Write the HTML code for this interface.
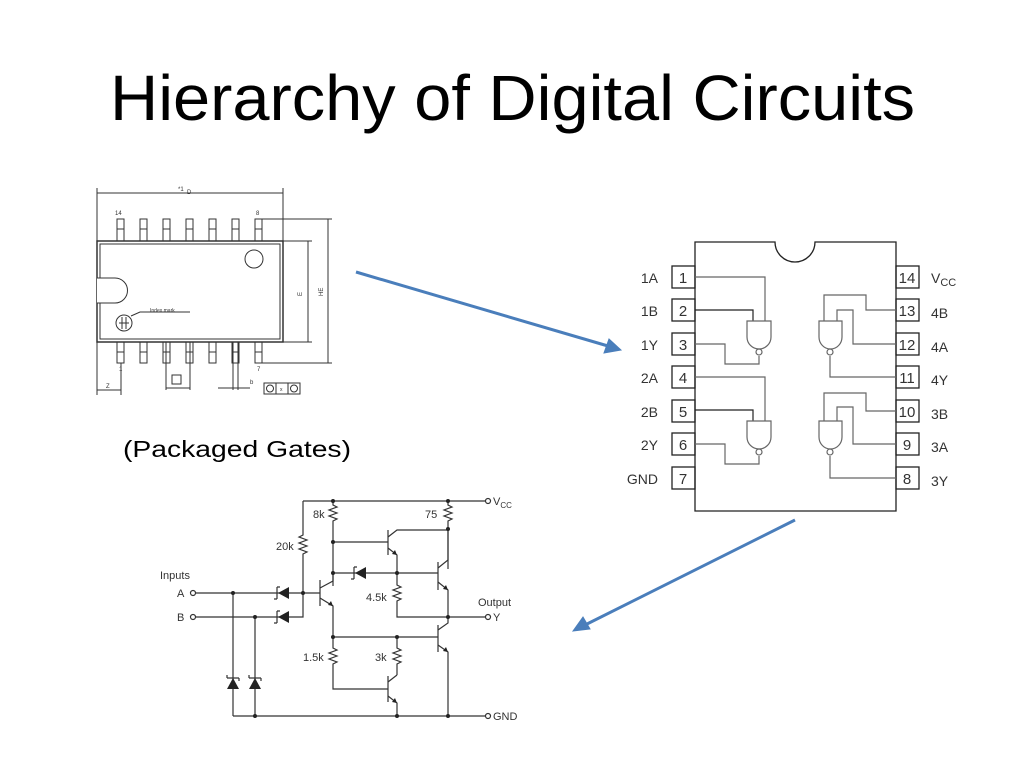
<!DOCTYPE html>
<html><head><meta charset="utf-8"><style>
html,body{margin:0;padding:0;background:#fff;}
svg{display:block;}
text{font-family:"Liberation Sans",sans-serif;}
</style></head><body>
<svg width="1024" height="768" viewBox="0 0 1024 768" xmlns="http://www.w3.org/2000/svg">
<rect width="1024" height="768" fill="#fff"/>
<text x="110" y="120" font-size="64" textLength="805" lengthAdjust="spacingAndGlyphs" fill="#000">Hierarchy of Digital Circuits</text>
<text x="123" y="457" font-size="23" textLength="228" lengthAdjust="spacingAndGlyphs" fill="#000">(Packaged Gates)</text>

<!-- Package drawing -->
<g stroke="#333" stroke-width="1" fill="none">
<line x1="97" y1="193" x2="283" y2="193"/>
<line x1="97" y1="188" x2="97" y2="395"/>
<line x1="283" y1="188" x2="283" y2="241"/>
<rect x="97" y="241" width="186" height="101" stroke-width="1.5"/>
<rect x="100" y="244" width="180" height="95"/>
<path d="M97 278 H115 A12.5 12.5 0 0 1 115 303 H97" fill="#fff"/>
<circle cx="254" cy="259" r="9"/>
<circle cx="124" cy="323" r="8"/>
<line x1="119" y1="323" x2="129" y2="323"/><line x1="122" y1="317" x2="122" y2="329"/><line x1="126" y1="317" x2="126" y2="329"/>
<path d="M131 316 L140 312 H190"/>
<g>
<rect x="117" y="219" width="7" height="22"/><rect x="140" y="219" width="7" height="22"/><rect x="163" y="219" width="7" height="22"/><rect x="186" y="219" width="7" height="22"/><rect x="209" y="219" width="7" height="22"/><rect x="232" y="219" width="7" height="22"/><rect x="255" y="219" width="7" height="22"/>
<rect x="117" y="342" width="7" height="21"/><rect x="140" y="342" width="7" height="21"/><rect x="163" y="342" width="7" height="21"/><rect x="186" y="342" width="7" height="21"/><rect x="209" y="342" width="7" height="21"/><rect x="232" y="342" width="7" height="21"/><rect x="255" y="342" width="7" height="21"/>
<line x1="117" y1="229" x2="262" y2="229" stroke-dasharray="7 16"/>
<line x1="117" y1="352" x2="262" y2="352" stroke-dasharray="7 16"/>
</g>
<line x1="262" y1="219" x2="332" y2="219"/><line x1="262" y1="363" x2="332" y2="363"/>
<line x1="328" y1="219" x2="328" y2="363"/>
<line x1="283" y1="241" x2="312" y2="241"/><line x1="283" y1="342" x2="312" y2="342"/>
<line x1="308" y1="241" x2="308" y2="342"/>
<line x1="121" y1="363" x2="121" y2="395"/>
<line x1="97" y1="390" x2="121" y2="390"/>
<line x1="166" y1="342" x2="166" y2="390"/><line x1="190" y1="342" x2="190" y2="390"/>
<line x1="166" y1="388" x2="190" y2="388"/>
<rect x="172" y="375" width="9" height="9"/>
<line x1="233" y1="342" x2="233" y2="390"/><line x1="238" y1="342" x2="238" y2="390"/>
<line x1="218" y1="388" x2="250" y2="388"/>
<rect x="264" y="383" width="36" height="11"/>
<line x1="276" y1="383" x2="276" y2="394"/><line x1="288" y1="383" x2="288" y2="394"/>
<circle cx="270" cy="388.5" r="3.5"/><circle cx="294" cy="388.5" r="3.5"/>
</g>
<g font-size="6" fill="#333">
<text x="115" y="215">14</text><text x="256" y="215">8</text>
<text x="119" y="371">1</text><text x="257" y="371">7</text>
<text x="187" y="194">D</text><text x="178" y="191">*1</text>
<text x="106" y="388">Z</text><text x="150" y="312" font-size="5">Index mark</text>
<text x="302" y="296" transform="rotate(-90 302 296)">E</text>
<text x="323" y="296" transform="rotate(-90 323 296)">HE</text>
<text x="250" y="384">b</text><text x="280" y="391" font-size="5">x</text>
</g>

<!-- DIP -->
<g stroke="#222" stroke-width="1.3" fill="none">
<path d="M695 242 H775 A20 20 0 0 0 815 242 H896 V511 H695 Z"/>
<rect x="672" y="266" width="23" height="22"/><rect x="672" y="299" width="23" height="22"/><rect x="672" y="333" width="23" height="22"/><rect x="672" y="366" width="23" height="22"/><rect x="672" y="400" width="23" height="22"/><rect x="672" y="433" width="23" height="22"/><rect x="672" y="467" width="23" height="22"/>
<rect x="896" y="266" width="23" height="22"/><rect x="896" y="299" width="23" height="22"/><rect x="896" y="333" width="23" height="22"/><rect x="896" y="366" width="23" height="22"/><rect x="896" y="400" width="23" height="22"/><rect x="896" y="433" width="23" height="22"/><rect x="896" y="467" width="23" height="22"/>
</g>
<g stroke="#666" stroke-width="1.2" fill="none">
<path d="M695 277 H765 V321"/><path d="M695 310 H753 V321" stroke="#222"/><path d="M695 344 H725 V364 H759 V356"/>
<path d="M747 321 H771 V337 A12 12 0 0 1 747 337 Z"/><circle cx="759" cy="352" r="3"/>
<path d="M695 377 H765 V421"/><path d="M695 410 H753 V421" stroke="#222"/><path d="M695 444 H725 V464 H759 V456"/>
<path d="M747 421 H771 V437 A12 12 0 0 1 747 437 Z"/><circle cx="759" cy="452" r="3"/>
<path d="M896 310 H866 V295 H824 V321"/><path d="M896 344 H853 V310 H837 V321"/><path d="M896 377 H830 V356"/>
<path d="M819 321 H842 V337 A11.5 12 0 0 1 819 337 Z"/><circle cx="830" cy="352" r="3"/>
<path d="M896 411 H866 V393 H824 V421"/><path d="M896 444 H853 V407 H837 V421"/><path d="M896 478 H830 V456"/>
<path d="M819 421 H842 V437 A11.5 12 0 0 1 819 437 Z"/><circle cx="830" cy="452" r="3"/>
</g>
<g font-size="15" fill="#333" text-anchor="middle">
<text x="683" y="283">1</text><text x="683" y="316">2</text><text x="683" y="350">3</text><text x="683" y="383">4</text><text x="683" y="417">5</text><text x="683" y="450">6</text><text x="683" y="484">7</text>
<text x="907" y="283">14</text><text x="907" y="316">13</text><text x="907" y="350">12</text><text x="907" y="383">11</text><text x="907" y="417">10</text><text x="907" y="450">9</text><text x="907" y="484">8</text>
</g>
<g font-size="14" fill="#333" text-anchor="end">
<text x="658" y="283">1A</text><text x="658" y="316">1B</text><text x="658" y="350">1Y</text><text x="658" y="383">2A</text><text x="658" y="417">2B</text><text x="658" y="450">2Y</text><text x="658" y="484">GND</text>
</g>
<g font-size="14" fill="#333">
<text x="931" y="283">V<tspan font-size="11" dy="3">CC</tspan></text><text x="931" y="318">4B</text><text x="931" y="352">4A</text><text x="931" y="385">4Y</text><text x="931" y="419">3B</text><text x="931" y="452">3A</text><text x="931" y="486">3Y</text>
</g>

<!-- Arrows -->
<g stroke="#4a7ebb" stroke-width="3" fill="#4a7ebb">
<line x1="356" y1="272" x2="608" y2="346"/>
<path d="M621 350 L604 353 L609 339 Z" stroke-width="1"/>
<line x1="795" y1="520" x2="585" y2="625"/>
<path d="M573 631 L583 617 L590 629 Z" stroke-width="1"/>
</g>

<!-- Circuit -->
<g stroke="#333" stroke-width="1.2" fill="none">
<path d="M303 501 H485"/><circle cx="488" cy="501" r="2.5"/>
<path d="M303 501 V535 l-4 2 l8 3 l-8 3 l8 3 l-8 3 l8 3 l-4 2 V617 H290"/>
<path d="M333 501 V505 l4 2 l-8 3 l8 3 l-8 3 l8 3 l-4 2 V586"/>
<path d="M448 501 V505 l4 2 l-8 3 l8 3 l-8 3 l8 3 l-4 2 V569"/>
<path d="M196 593 H320"/><circle cx="193" cy="593" r="2.5"/>
<path d="M196 617 H290"/><circle cx="193" cy="617" r="2.5"/>
<path d="M233 593 V716"/><path d="M255 617 V716"/>
<path d="M233 716 H485"/><circle cx="488" cy="716" r="2.5"/>
<path d="M320 580 V606"/><path d="M320 588 L333 581 V573"/><path d="M320 598 L333 606 V637"/>
<path d="M333 542 H388"/><path d="M333 573 H438"/>
<path d="M388 530 V555"/><path d="M388 537 L397 530 H448"/><path d="M388 548 L397 555 V573"/>
<path d="M438 562 V590"/><path d="M438 568 L448 560 V529"/><path d="M438 582 L448 590 V617"/>
<path d="M397 573 V585 l4 2 l-8 3 l8 3 l-8 3 l8 3 l-4 2 V617 H485"/><circle cx="488" cy="617" r="2.5"/>
<path d="M333 637 H438"/>
<path d="M438 625 V652"/><path d="M438 630 L448 623 V617"/><path d="M438 645 L448 652 V716"/>
<path d="M333 637 V648 l4 2 l-8 3 l8 3 l-8 3 l8 3 l-4 2 V689 H388"/>
<path d="M397 637 V648 l4 2 l-8 3 l8 3 l-8 3 l8 3 l-4 2 V675"/>
<path d="M388 676 V702"/><path d="M388 682 L397 675"/><path d="M388 696 L397 703 V716"/>
<path d="M277 587 V599 M277 587 h3 M277 599 h-3"/>
<path d="M277 611 V623 M277 611 h3 M277 623 h-3"/>
<path d="M354 567 V579 M354 567 h3 M354 579 h-3"/>
<path d="M227 678 H239 M227 678 v-3 M239 678 v3"/>
<path d="M249 678 H261 M249 678 v-3 M261 678 v3"/>
</g>
<g fill="#222">
<path d="M278 593 L289 587 V599 Z"/><path d="M278 617 L289 611 V623 Z"/>
<path d="M355 573 L366 567 V579 Z"/>
<path d="M233 678 L227 689 H239 Z"/><path d="M255 678 L249 689 H261 Z"/>
<circle cx="333" cy="501" r="2"/><circle cx="448" cy="501" r="2"/><circle cx="333" cy="542" r="2"/><circle cx="333" cy="573" r="2"/><circle cx="397" cy="573" r="2"/><circle cx="448" cy="529" r="2"/>
<circle cx="303" cy="593" r="2"/><circle cx="233" cy="593" r="2"/><circle cx="255" cy="617" r="2"/>
<circle cx="448" cy="617" r="2"/><circle cx="333" cy="637" r="2"/><circle cx="397" cy="637" r="2"/>
<circle cx="255" cy="716" r="2"/><circle cx="397" cy="716" r="2"/><circle cx="448" cy="716" r="2"/>
<path d="M333 606 l-5 -1 l3 -4 Z"/><path d="M397 555 l-5 -1 l3 -4 Z"/><path d="M448 590 l-5 -1 l3 -4 Z"/><path d="M448 652 l-5 -1 l3 -4 Z"/><path d="M397 703 l-5 -1 l3 -4 Z"/>
</g>
<g font-size="11" fill="#333">
<text x="493" y="505">V<tspan font-size="8" dy="3">CC</tspan></text>
<text x="313" y="518">8k</text><text x="425" y="518">75</text><text x="276" y="550">20k</text>
<text x="160" y="579">Inputs</text><text x="177" y="597">A</text><text x="177" y="621">B</text>
<text x="366" y="601">4.5k</text><text x="478" y="606">Output</text><text x="493" y="621">Y</text>
<text x="303" y="661">1.5k</text><text x="375" y="661">3k</text><text x="493" y="720">GND</text>
</g>
</svg>
</body></html>
